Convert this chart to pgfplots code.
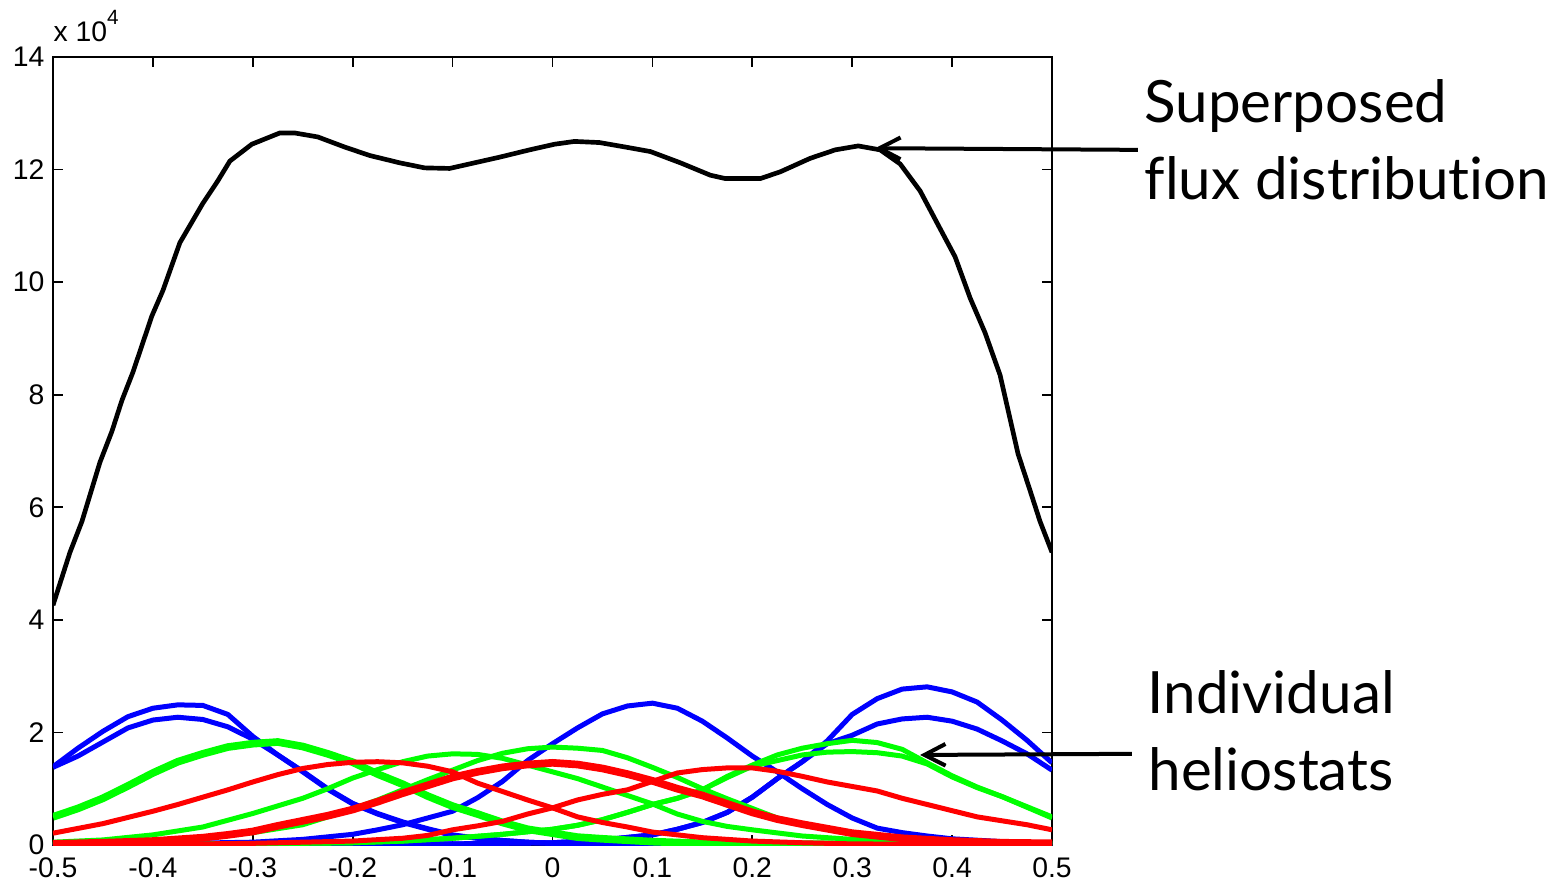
\documentclass[border=0pt]{standalone}
\usepackage{fontspec}
\setmainfont{Liberation Sans}
\newfontfamily\annfont[Ligatures=NoCommon]{Lato}
\usepackage{pgfplots}
\pgfplotsset{compat=1.18}
\usetikzlibrary{arrows.meta}

\definecolor{mblue}{rgb}{0,0,1}
\definecolor{mgreen}{rgb}{0,1,0}
\definecolor{mred}{rgb}{1,0,0}

\pgfplotsset{
  helio/.style={line width=1.5pt, mark=none},
  heliothick/.style={line width=2.3pt, mark=none},
}

\begin{document}
\begin{tikzpicture}
\begin{axis}[
  scale only axis, width=299.7pt, height=236.4pt,
  xmin=-0.5, xmax=0.5, ymin=0, ymax=14,
  xtick={-0.5,-0.4,-0.3,-0.2,-0.1,0,0.1,0.2,0.3,0.4,0.5},
  xticklabels={-0.5,-0.4,-0.3,-0.2,-0.1,0,0.1,0.2,0.3,0.4,0.5},
  ytick={0,2,4,6,8,10,12,14},
  yticklabels={0,2,4,6,8,10,12,14},
  tick align=inside, major tick length=3pt,
  tick style={line width=0.5pt, black},
  axis line style={line width=0.6pt},
  ticklabel style={font=\fontsize{8.5}{10}\selectfont, inner sep=0pt},
  xticklabel style={yshift=-3.6pt},
  yticklabel style={xshift=-2.4pt},
]
% blue heliostats
\addplot[helio, mblue] coordinates {
(-0.5,1.39)(-0.475,1.72)(-0.45,2.02)(-0.425,2.28)(-0.4,2.43)(-0.375,2.49)(-0.35,2.48)
(-0.325,2.32)(-0.3,1.93)(-0.275,1.6)(-0.25,1.3)(-0.225,0.99)(-0.2,0.73)(-0.175,0.55)
(-0.15,0.4)(-0.125,0.28)(-0.1,0.17)(-0.075,0.12)(-0.05,0.08)(-0.025,0.05)(0,0.03)
(0.05,0.02)(0.1,0.01)(0.2,0.01)(0.3,0.0)(0.5,0.0)};
\addplot[helio, mblue] coordinates {
(-0.5,1.38)(-0.475,1.58)(-0.45,1.83)(-0.425,2.08)(-0.4,2.22)(-0.375,2.27)(-0.35,2.23)
(-0.325,2.1)(-0.3,1.88)(-0.275,1.6)(-0.25,1.31)(-0.225,1.0)(-0.2,0.74)(-0.175,0.56)
(-0.15,0.41)(-0.125,0.29)(-0.1,0.18)(-0.075,0.12)(-0.05,0.08)(-0.025,0.05)(0,0.03)
(0.05,0.02)(0.1,0.01)(0.2,0.01)(0.3,0.0)(0.5,0.0)};
\addplot[helio, mblue] coordinates {
(-0.5,0.01)(-0.4,0.02)(-0.3,0.05)(-0.25,0.1)(-0.2,0.19)(-0.175,0.27)(-0.15,0.36)
(-0.125,0.48)(-0.1,0.6)(-0.075,0.84)(-0.05,1.13)(-0.025,1.5)(0,1.8)(0.025,2.08)
(0.05,2.33)(0.075,2.47)(0.1,2.52)(0.125,2.43)(0.15,2.2)(0.175,1.9)(0.2,1.58)
(0.225,1.3)(0.25,1.0)(0.275,0.72)(0.3,0.48)(0.325,0.3)(0.35,0.22)(0.375,0.16)
(0.4,0.11)(0.45,0.06)(0.5,0.03)};
\addplot[helio, mblue] coordinates {
(-0.5,0)(-0.3,0.0)(-0.2,0.01)(-0.1,0.02)(0,0.04)(0.05,0.09)(0.1,0.18)(0.125,0.28)
(0.15,0.4)(0.175,0.58)(0.2,0.85)(0.225,1.18)(0.25,1.48)(0.275,1.85)(0.3,2.32)
(0.325,2.6)(0.35,2.77)(0.375,2.81)(0.4,2.72)(0.425,2.54)(0.45,2.22)(0.475,1.86)(0.5,1.46)};
\addplot[helio, mblue] coordinates {
(-0.5,0)(-0.3,0.0)(-0.2,0.01)(-0.1,0.02)(0,0.04)(0.05,0.09)(0.1,0.18)(0.125,0.28)
(0.15,0.4)(0.175,0.58)(0.2,0.85)(0.225,1.18)(0.25,1.48)(0.275,1.8)(0.3,1.95)
(0.325,2.15)(0.35,2.24)(0.375,2.27)(0.4,2.2)(0.425,2.06)(0.45,1.85)(0.475,1.62)(0.5,1.33)};
% green heliostats
\addplot[heliothick, mgreen] coordinates {
(-0.5,0.5)(-0.475,0.65)(-0.45,0.83)(-0.425,1.05)(-0.4,1.28)(-0.375,1.48)(-0.35,1.62)
(-0.325,1.74)(-0.3,1.8)(-0.275,1.83)(-0.25,1.75)(-0.225,1.62)(-0.2,1.47)(-0.175,1.26)
(-0.15,1.08)(-0.125,0.87)(-0.1,0.69)(-0.075,0.55)(-0.05,0.4)(-0.025,0.28)(0,0.21)
(0.025,0.14)(0.05,0.11)(0.1,0.06)(0.15,0.03)(0.2,0.02)(0.3,0.01)(0.5,0.0)};
\addplot[helio, mgreen] coordinates {
(-0.5,0.05)(-0.45,0.09)(-0.4,0.18)(-0.35,0.32)(-0.3,0.56)(-0.25,0.83)(-0.225,1.0)
(-0.2,1.19)(-0.175,1.34)(-0.15,1.48)(-0.125,1.58)(-0.1,1.62)(-0.075,1.61)(-0.05,1.54)
(-0.025,1.42)(0,1.3)(0.025,1.18)(0.05,1.03)(0.075,0.88)(0.1,0.73)(0.125,0.55)(0.15,0.42)
(0.175,0.33)(0.2,0.27)(0.25,0.16)(0.3,0.1)(0.35,0.06)(0.4,0.04)(0.45,0.03)(0.5,0.02)};
\addplot[helio, mgreen] coordinates {
(-0.5,0.02)(-0.45,0.04)(-0.4,0.08)(-0.35,0.14)(-0.3,0.22)(-0.25,0.36)(-0.2,0.64)
(-0.175,0.8)(-0.15,0.98)(-0.125,1.16)(-0.1,1.33)(-0.075,1.5)(-0.05,1.63)(-0.025,1.71)
(0,1.74)(0.025,1.72)(0.05,1.68)(0.075,1.55)(0.1,1.38)(0.125,1.2)(0.15,1.0)(0.175,0.82)
(0.2,0.65)(0.225,0.48)(0.25,0.37)(0.275,0.28)(0.3,0.21)(0.35,0.12)(0.4,0.07)(0.45,0.04)(0.5,0.02)};
\addplot[helio, mgreen] coordinates {
(-0.5,0.01)(-0.3,0.02)(-0.2,0.04)(-0.15,0.07)(-0.1,0.12)(-0.05,0.19)(0,0.28)(0.025,0.35)
(0.05,0.45)(0.075,0.58)(0.1,0.72)(0.125,0.83)(0.15,0.98)(0.175,1.22)(0.2,1.42)
(0.225,1.6)(0.25,1.72)(0.275,1.8)(0.3,1.86)(0.325,1.82)(0.35,1.7)(0.375,1.46)
(0.4,1.23)(0.425,1.03)(0.45,0.86)(0.475,0.68)(0.5,0.5)};
\addplot[helio, mgreen] coordinates {
(-0.5,0.01)(-0.3,0.02)(-0.2,0.04)(-0.15,0.07)(-0.1,0.12)(-0.05,0.19)(0,0.28)(0.025,0.35)
(0.05,0.45)(0.075,0.58)(0.1,0.72)(0.125,0.83)(0.15,0.98)(0.175,1.2)(0.2,1.4)
(0.225,1.5)(0.25,1.6)(0.275,1.65)(0.3,1.66)(0.325,1.64)(0.35,1.58)(0.375,1.44)
(0.4,1.21)(0.425,1.02)(0.45,0.86)(0.475,0.67)(0.5,0.48)};
% red heliostats
\addplot[helio, mred] coordinates {
(-0.5,0.21)(-0.45,0.38)(-0.4,0.6)(-0.375,0.72)(-0.35,0.85)(-0.325,0.98)(-0.3,1.12)
(-0.275,1.25)(-0.25,1.36)(-0.225,1.43)(-0.2,1.47)(-0.175,1.48)(-0.15,1.46)(-0.125,1.4)
(-0.1,1.3)(-0.075,1.1)(-0.05,0.95)(-0.025,0.8)(0,0.66)(0.025,0.5)(0.05,0.4)(0.075,0.32)
(0.1,0.23)(0.125,0.18)(0.15,0.13)(0.2,0.07)(0.25,0.04)(0.3,0.02)(0.4,0.01)(0.5,0.0)};
\addplot[heliothick, mred] coordinates {
(-0.5,0.02)(-0.45,0.04)(-0.4,0.07)(-0.35,0.13)(-0.325,0.18)(-0.3,0.24)(-0.275,0.34)
(-0.25,0.43)(-0.225,0.52)(-0.2,0.63)(-0.175,0.77)(-0.15,0.92)(-0.125,1.06)(-0.1,1.2)
(-0.075,1.3)(-0.05,1.38)(-0.025,1.43)(0,1.46)(0.025,1.43)(0.05,1.36)(0.075,1.26)
(0.1,1.14)(0.125,1.0)(0.15,0.88)(0.175,0.73)(0.2,0.58)(0.225,0.46)(0.25,0.37)
(0.275,0.29)(0.3,0.21)(0.35,0.12)(0.4,0.07)(0.45,0.04)(0.5,0.03)};
\addplot[helio, mred] coordinates {
(-0.5,0.0)(-0.4,0.01)(-0.3,0.03)(-0.25,0.05)(-0.2,0.07)(-0.15,0.12)(-0.125,0.17)
(-0.1,0.27)(-0.075,0.34)(-0.05,0.42)(-0.025,0.55)(0,0.66)(0.025,0.8)(0.05,0.9)
(0.075,0.98)(0.1,1.13)(0.125,1.28)(0.15,1.34)(0.175,1.37)(0.2,1.37)(0.225,1.31)
(0.25,1.22)(0.275,1.12)(0.3,1.04)(0.325,0.96)(0.35,0.83)(0.375,0.72)(0.4,0.61)
(0.425,0.5)(0.45,0.43)(0.475,0.36)(0.5,0.27)};
% superposed flux
\addplot[line width=1.4pt, black, mark=none] coordinates {
(-0.500,4.26)(-0.483,5.2)(-0.471,5.75)(-0.453,6.8)(-0.441,7.35)(-0.431,7.9)(-0.420,8.4)
(-0.401,9.4)(-0.390,9.85)(-0.373,10.7)(-0.350,11.4)(-0.335,11.8)(-0.323,12.15)
(-0.301,12.45)(-0.273,12.65)(-0.258,12.65)(-0.235,12.58)(-0.208,12.4)(-0.183,12.25)
(-0.153,12.12)(-0.128,12.03)(-0.103,12.02)(-0.083,12.1)(-0.053,12.22)(-0.023,12.35)
(0.002,12.45)(0.022,12.5)(0.047,12.48)(0.073,12.4)(0.098,12.32)(0.128,12.12)
(0.158,11.9)(0.173,11.84)(0.208,11.84)(0.228,11.96)(0.258,12.2)(0.283,12.35)
(0.306,12.42)(0.328,12.35)(0.348,12.1)(0.368,11.62)(0.388,10.95)(0.403,10.45)
(0.418,9.72)(0.433,9.1)(0.448,8.35)(0.466,6.95)(0.478,6.3)(0.488,5.75)(0.500,5.2)};
\coordinate (tipA) at (axis cs:0.323,12.38);
\coordinate (tailA) at (axis cs:0.586,12.35);
\coordinate (tipB) at (axis cs:0.368,1.6);
\coordinate (tailB) at (axis cs:0.580,1.62);
\coordinate (txtA1) at (axis cs:0.592,12.84);
\coordinate (txtA2) at (axis cs:0.592,11.46);
\coordinate (txtB1) at (axis cs:0.595,2.345);
\coordinate (txtB2) at (axis cs:0.596,0.977);
\end{axis}
% exponent label
\node[anchor=base west, inner sep=0pt, font=\fontsize{8.5}{10}\selectfont]
  at ([yshift=4.5pt]current axis.north west) {x 10\raisebox{5.2pt}{\fontsize{6.2}{7}\selectfont 4}};
% annotations
\draw[line width=1.2pt, -{Straight Barb[length=6.3pt,width=6.5pt]}] (tailA) -- (tipA);
\draw[line width=1.2pt, -{Straight Barb[length=6.3pt,width=6.5pt]}] (tailB) -- (tipB);
\begin{scope}[every node/.style={anchor=base west, inner sep=0pt, font=\annfont\fontsize{17.5}{21}\selectfont}]
\node at (txtA1) {Superposed};
\node at (txtA2) {flux distribution};
\node at (txtB1) {Individual};
\node at (txtB2) {heliostats};
\end{scope}
% page frame with the reference's margins
\path (current axis.south west) ++(-15.9pt,-11.7pt) rectangle ++(470.4pt,265.2pt);
\end{tikzpicture}
\end{document}
